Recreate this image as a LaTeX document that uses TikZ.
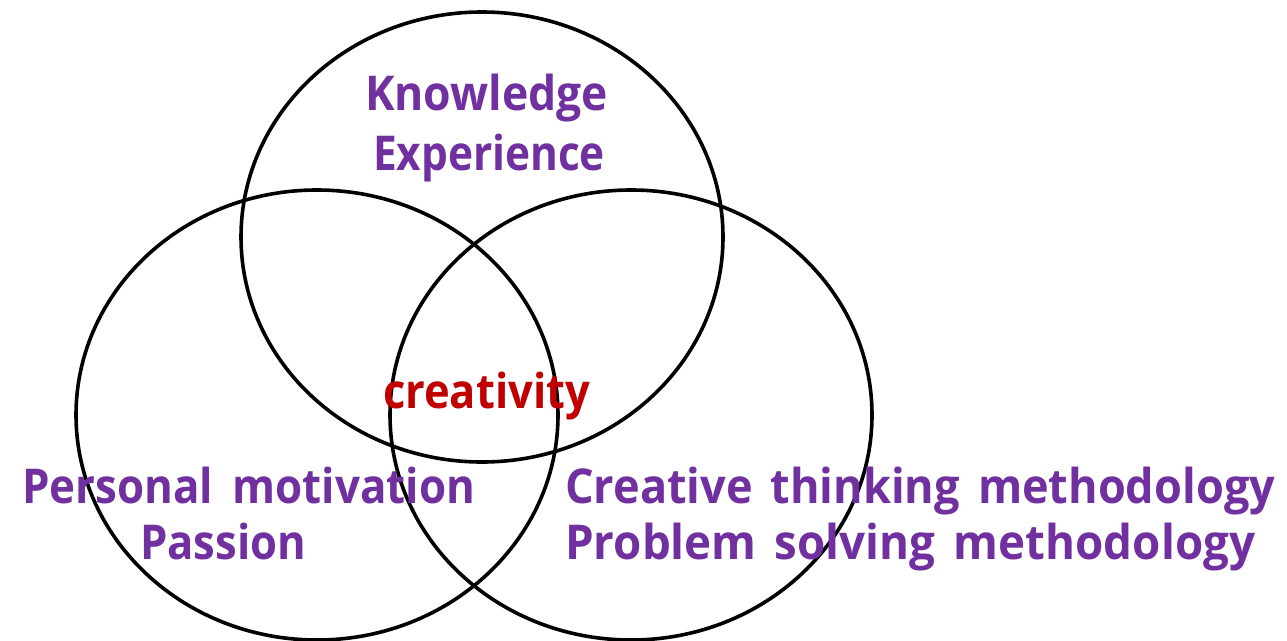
\documentclass[tikz,border=0pt]{standalone}
\usepackage{fontspec}
\usetikzlibrary{shapes.geometric}
\setmainfont{Open Sans}
\definecolor{vpurple}{HTML}{7030A0}
\definecolor{vred}{HTML}{C00000}
\newsavebox\fitbox
\newcommand\fitto[2]{\sbox\fitbox{#2}\pgfmathsetmacro\fitsx{#1/\the\wd\fitbox}\scalebox{\fitsx}[1]{\usebox\fitbox}}
\tikzset{
  ring/.style={draw=black, line width=3.6pt, ellipse, minimum width=482pt, minimum height=450pt, inner sep=0pt},
  label/.style={inner sep=0pt, text=vpurple, font=\fontsize{48}{48}\selectfont\bfseries},
  core/.style={inner sep=0pt, text=vred, font=\fontsize{48}{48}\selectfont\bfseries}
}
\begin{document}
\begin{tikzpicture}[x=1pt,y=-1pt]
\useasboundingbox[fill=white] (0,0) rectangle (1287,640);
\node[ring] (top) at (482,237) {};
\node[ring] (left) at (317,415) {};
\node[ring] (right) at (631,415) {};
\node[label, anchor=base] (know) at (486.5,110) {\fitto{243}{Knowledge}};
\node[label, anchor=base] (exp) at (489,170) {\fitto{232}{Experience}};
\node[core, anchor=base] (crea) at (486.5,408) {\fitto{207}{creativity}};
\node[label, anchor=base west] (pm) at (22,503) {\fitto{453}{Personal\hspace{0.45em}motivation}};
\node[label, anchor=base west] (pas) at (140,559) {\fitto{166}{Passion}};
\node[label, anchor=base west] (ctm) at (565,503) {\fitto{710}{Creative\hspace{0.4em}thinking\hspace{0.4em}methodology}};
\node[label, anchor=base west] (psm) at (565,559) {\fitto{690}{Problem\hspace{0.4em}solving\hspace{0.4em}methodology}};
\end{tikzpicture}
\end{document}
